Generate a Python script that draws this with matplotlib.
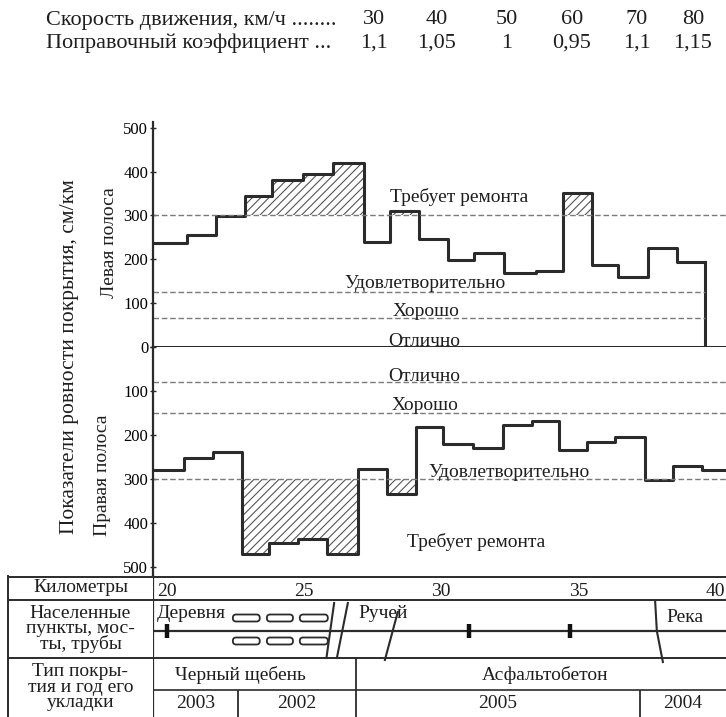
import matplotlib
matplotlib.use("Agg")
import matplotlib.pyplot as plt
from matplotlib.patches import FancyBboxPatch

plt.rcParams['font.family'] = ['Liberation Serif', 'DejaVu Serif']
plt.rcParams['hatch.linewidth'] = 0.8
plt.rcParams['text.color'] = '#1e1e1e'

W, H = 726, 717
INK = '#2b2b2b'
DASH = '#7a7a7a'

# speed correction table
speeds = ['30', '40', '50', '60', '70', '80']
speed_x = [374, 437, 507, 572, 637, 693]
coeffs = ['1,1', '1,05', '1', '0,95', '1,1', '1,15']

# roughness, cm/km, per road section (section boundaries in km)
left_edges = [19.55, 20.75, 21.8, 22.85, 23.85, 24.95, 26.05, 27.2, 28.15, 29.2,
              30.25, 31.2, 32.3, 33.45, 34.45, 35.5, 36.45, 37.55, 38.6, 39.6]
left_vals = [237, 256, 298, 345, 381, 395, 420, 240, 309, 247,
             199, 215, 169, 174, 352, 187, 160, 226, 194]

right_edges = [19.5, 20.63, 21.68, 22.74, 23.72, 24.78, 25.84, 26.97, 28.02, 29.08,
               30.07, 31.16, 32.25, 33.31, 34.29, 35.31, 36.33, 37.43, 38.45, 39.5, 40.4]
right_vals = [280, 253, 238, 469, 446, 437, 469, 278, 334, 182,
              220, 229, 177, 168, 235, 215, 204, 303, 271, 280]

REPAIR = 300
left_levels = [125, 65]
right_levels = [80, 150]

km_ticks = [20, 25, 30, 35, 40]
pipes_km = [20.0, 31.0, 34.7]
houses_km = [(22.41, 23.39), (23.65, 24.6), (24.85, 25.87)]
year_breaks = [19.5, 22.6, 26.9, 37.25, 40.38]
years = ['2003', '2002', '2005', '2004']
surfaces = ['Черный щебень', 'Асфальтобетон']
surface_km = [22.7, 33.8]

XLIM = (19.5, 40.38)
PX_PER_KM = 27.44


def box(x0, y0, x1, y1):
    return [x0 / W, 1 - y1 / H, (x1 - x0) / W, (y1 - y0) / H]


def strip(ax):
    for s in ['top', 'right', 'bottom']:
        ax.spines[s].set_visible(False)
    ax.spines['left'].set_linewidth(1.6)
    ax.spines['left'].set_color(INK)
    ax.set_xlim(*XLIM)
    ax.set_xticks([])


def hatch_over(ax, edges, vals):
    for i, v in enumerate(vals):
        if v > REPAIR:
            ax.fill_between([edges[i], edges[i + 1]], REPAIR, v, facecolor='none',
                            edgecolor='#555555', hatch='////', linewidth=0)


def steps(ax, edges, vals):
    ax.step(edges, vals + [vals[-1]], where='post', color=INK, lw=2.2)


fig = plt.figure(figsize=(W / 100, H / 100), dpi=100)

# header table
fs_top = 16
fig.text(46 / W, 1 - 20 / H, 'Скорость движения, км/ч ........', fontsize=fs_top,
         va='center', ha='left')
fig.text(46 / W, 1 - 43 / H, 'Поправочный коэффициент ...', fontsize=fs_top,
         va='center', ha='left')
for x, s, c in zip(speed_x, speeds, coeffs):
    fig.text(x / W, 1 - 20 / H, s, fontsize=fs_top, va='center', ha='center')
    fig.text(x / W, 1 - 43 / H, c, fontsize=fs_top, va='center', ha='center')

fs = 14
tick_kw = dict(direction='inout', length=5, width=1.0, labelsize=12, pad=1, color=INK)

# left lane
ax1 = fig.add_axes(box(153, 122, 726, 347))
strip(ax1)
ax1.set_ylim(0, 513)
ax1.set_yticks([0, 100, 200, 300, 400, 500])
ax1.tick_params(axis='y', **tick_kw)
hatch_over(ax1, left_edges, left_vals)
steps(ax1, left_edges, left_vals)
ax1.vlines(left_edges[-1], 0, left_vals[-1], color=INK, lw=2.2)
ax1.axhline(REPAIR, color=DASH, lw=1.0, ls=(0, (4, 2)))
for lv in left_levels:
    ax1.hlines(lv, XLIM[0], left_edges[-1], color=DASH, lw=1.0, ls=(0, (4, 2)))
ax1.axhline(0, color=INK, lw=2.2)
ax1.text(30.66, 342, 'Требует ремонта', fontsize=fs, ha='center', va='center')
ax1.text(29.4, 144, 'Удовлетворительно', fontsize=fs, ha='center', va='center')
ax1.text(29.45, 80, 'Хорошо', fontsize=fs, ha='center', va='center')
ax1.text(29.4, 12, 'Отлично', fontsize=fs, ha='center', va='center')

# right lane, axis pointing down
ax2 = fig.add_axes(box(153, 347, 726, 576))
strip(ax2)
ax2.set_ylim(520, 0)
ax2.set_yticks([0, 100, 200, 300, 400, 500])
ax2.set_yticklabels(['', '100', '200', '300', '400', '500'])
ax2.tick_params(axis='y', **tick_kw)
hatch_over(ax2, right_edges, right_vals)
steps(ax2, right_edges, right_vals)
for lv in right_levels + [REPAIR]:
    ax2.axhline(lv, color=DASH, lw=1.0, ls=(0, (4, 2)))
ax2.text(29.4, 68, 'Отлично', fontsize=fs, ha='center', va='center')
ax2.text(29.4, 132, 'Хорошо', fontsize=fs, ha='center', va='center')
ax2.text(32.47, 284, 'Удовлетворительно', fontsize=fs, ha='center', va='center')
ax2.text(31.27, 443, 'Требует ремонта', fontsize=fs, ha='center', va='center')

fig.text(110 / W, 1 - 243 / H, 'Левая полоса', rotation=90, fontsize=fs,
         ha='center', va='center')
fig.text(103 / W, 1 - 475 / H, 'Правая полоса', rotation=90, fontsize=fs,
         ha='center', va='center')
fig.text(70 / W, 1 - 357 / H, 'Показатели ровности покрытия, см/км', rotation=90,
         fontsize=15.5, ha='center', va='center')

# linear diagram table, y in pixels below the table top
axt = fig.add_axes(box(153, 576, 726, 717))
strip(axt)
axt.set_ylim(141, 0)
axt.set_yticks([])
for y in [0.6, 24, 82]:
    axt.axhline(y, color=INK, lw=1.4)
axt.axhline(114, color=INK, lw=1.2)
for k in km_ticks:
    axt.text(k, 15, str(k), fontsize=fs, ha='center', va='center')

# settlements, bridges, pipes
axt.axhline(55, color=INK, lw=1.6)
axt.text(19.62, 37, 'Деревня', fontsize=fs, ha='left', va='center')
for k in pipes_km:
    axt.vlines(k, 48, 62, color='#111111', lw=3.2)
for a, b in houses_km:
    for yc in (42, 65):
        axt.add_patch(FancyBboxPatch((a, yc - 3.5), b - a, 7,
                                     boxstyle='round,pad=0,rounding_size=0.12',
                                     mutation_aspect=PX_PER_KM,
                                     fc='white', ec=INK, lw=1.3))
axt.plot([25.82, 26.1], [82, 27], color=INK, lw=1.5)
axt.plot([26.2, 26.6], [82, 27], color=INK, lw=1.5)
axt.text(27.0, 37, 'Ручей', fontsize=fs, ha='left', va='center')
axt.plot([27.95, 28.42], [84, 36], color=INK, lw=1.5)
axt.plot([37.8, 37.86, 38.08], [26, 55, 86], color=INK, lw=1.5)
axt.text(38.2, 41, 'Река', fontsize=fs, ha='left', va='center')

# surface type and year laid
for name, k in zip(surfaces, surface_km):
    axt.text(k, 99, name, fontsize=fs, ha='center', va='center')
axt.vlines(year_breaks[2], 82, 141, color=INK, lw=1.3)
for k in [year_breaks[1], year_breaks[3]]:
    axt.vlines(k, 114, 141, color=INK, lw=1.3)
for i, yr in enumerate(years):
    axt.text((year_breaks[i] + year_breaks[i + 1]) / 2, 128, yr, fontsize=fs,
             ha='center', va='center')

# row captions
axh = fig.add_axes(box(8, 576, 153, 717))
axh.set_xlim(0, 1)
axh.set_ylim(141, 0)
axh.set_xticks([])
axh.set_yticks([])
for s in ['top', 'right', 'bottom']:
    axh.spines[s].set_visible(False)
axh.spines['left'].set_linewidth(1.4)
axh.spines['left'].set_color(INK)
for y in [0.6, 24, 82]:
    axh.axhline(y, color=INK, lw=1.4)
axh.text(0.5, 12, 'Километры', fontsize=fs, ha='center', va='center')
axh.text(0.5, 53, 'Населенные\nпункты, мос-\nты, трубы', fontsize=fs,
         ha='center', va='center', linespacing=0.85)
axh.text(0.5, 111, 'Тип покры-\nтия и год его\nукладки', fontsize=fs,
         ha='center', va='center', linespacing=0.85)

fig.savefig('out.png', dpi=100)
